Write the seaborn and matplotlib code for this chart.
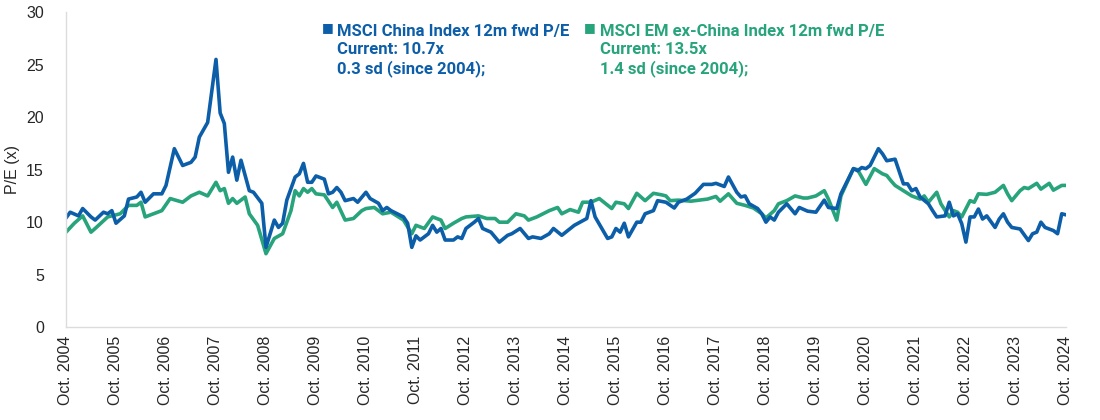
import matplotlib
matplotlib.use("Agg")
from matplotlib import pyplot as plt
import pandas as pd
import seaborn as sns

# month offsets counted from Oct. 2004, P/E values
china_month = [0, 1, 3, 4, 6, 7, 9, 10, 11, 12, 14, 15, 17, 18, 19, 21, 23, 24, 26, 28,
               30, 31, 32, 34, 36, 37, 38, 39, 40, 41, 42, 44, 45, 47, 48, 50, 51, 52, 53, 55,
               56, 57, 58, 59, 60, 62, 63, 64, 65, 66, 67, 69, 70, 72, 73, 75, 76, 77, 78, 81,
               82, 83, 84, 85, 87, 88, 89, 90, 91, 93, 94, 95, 96, 98, 99, 100, 102, 104, 106, 107,
               109, 111, 112, 114, 116, 117, 119, 122, 125, 126, 127, 130, 131, 132, 133, 134, 135, 137, 138, 139,
               141, 142, 144, 146, 147, 149, 151, 153, 155, 156, 158, 159, 161, 162, 163, 164, 166, 167, 168, 169,
               170, 171, 173, 175, 176, 178, 180, 182, 183, 185, 186, 189, 190, 191, 192, 193, 195, 196, 197, 199,
               201, 202, 203, 204, 205, 207, 208, 209, 211, 212, 213, 214, 215, 216, 217, 218, 219, 220, 221, 223,
               224, 225, 226, 227, 229, 231, 232, 233, 234, 235, 237, 238, 239, 240]
china_pe = [10.4, 10.95, 10.6, 11.3, 10.5, 10.2, 10.95, 10.8, 11.1, 9.9, 10.6, 12.2, 12.4, 12.85, 11.9, 12.7, 12.7, 13.5, 17.0, 15.4,
            15.7, 16.2, 18.1, 19.5, 25.5, 20.4, 19.4, 14.75, 16.2, 14.0, 15.9, 13.0, 12.85, 11.8, 7.6, 10.2, 9.5, 9.9, 12.1, 14.3,
            14.6, 15.6, 13.8, 13.8, 14.4, 14.1, 12.7, 12.85, 13.3, 12.85, 12.05, 12.25, 11.9, 12.85, 12.25, 11.8, 11.1, 11.4, 11.1, 10.5,
            9.9, 7.6, 8.7, 8.3, 8.9, 9.7, 9.05, 9.4, 8.3, 8.3, 8.6, 8.45, 9.4, 10.0, 10.35, 9.4, 9.05, 8.1, 8.75, 8.9,
            9.4, 8.45, 8.6, 8.45, 8.9, 9.4, 8.75, 9.7, 10.35, 12.05, 10.5, 8.45, 8.6, 9.4, 9.05, 9.9, 8.6, 10.0, 10.0, 10.8,
            11.1, 12.05, 11.9, 11.35, 11.9, 12.2, 12.75, 13.6, 13.6, 13.7, 13.4, 14.3, 12.85, 12.4, 12.5, 11.75, 11.3, 10.8, 10.0, 10.5,
            10.2, 10.95, 11.75, 10.8, 11.4, 11.05, 10.95, 12.1, 11.4, 11.3, 12.7, 15.1, 14.9, 15.2, 15.1, 15.4, 17.0, 16.5, 15.85, 16.0,
            13.65, 13.65, 13.0, 13.2, 12.4, 11.75, 11.1, 10.5, 10.6, 11.9, 10.6, 10.8, 9.85, 8.1, 10.5, 10.5, 11.25, 10.3, 10.6, 9.5,
            10.3, 10.8, 10.0, 9.5, 9.35, 8.25, 8.9, 9.05, 10.0, 9.5, 9.2, 8.9, 10.8, 10.7]

em_month = [0, 2, 4, 6, 7, 10, 11, 13, 15, 17, 18, 19, 21, 23, 25, 28, 30, 32, 34, 36,
            37, 38, 39, 40, 41, 43, 44, 46, 48, 50, 52, 54, 55, 56, 57, 58, 59, 60, 62, 64,
            65, 67, 69, 71, 72, 74, 76, 78, 81, 83, 84, 86, 88, 90, 91, 93, 95, 96, 99, 101,
            103, 104, 106, 108, 110, 111, 113, 116, 118, 119, 121, 123, 124, 126, 128, 131, 132, 134, 135, 137,
            139, 141, 143, 144, 145, 147, 150, 152, 154, 156, 157, 159, 161, 163, 165, 167, 168, 170, 171, 173,
            175, 177, 178, 180, 182, 183, 185, 186, 189, 190, 192, 194, 196, 197, 198, 199, 201, 202, 203, 205,
            206, 207, 209, 210, 212, 213, 214, 215, 217, 218, 219, 221, 223, 225, 226, 227, 229, 230, 231, 233,
            234, 236, 237, 239, 240]
em_pe = [9.05, 9.9, 10.6, 9.05, 9.4, 10.5, 10.6, 10.8, 11.6, 11.6, 11.9, 10.5, 10.8, 11.1, 12.25, 11.9, 12.5, 12.85, 12.5, 13.8,
         13.0, 13.2, 11.8, 12.25, 11.8, 12.4, 10.8, 9.7, 7.0, 8.45, 8.9, 11.1, 13.0, 12.5, 13.2, 12.85, 13.2, 12.7, 12.6, 11.4,
         11.9, 10.2, 10.35, 11.1, 11.3, 11.4, 10.8, 10.95, 10.2, 8.9, 9.7, 9.4, 10.5, 10.2, 9.4, 9.9, 10.35, 10.5, 10.6, 10.35,
         10.35, 10.0, 10.0, 10.8, 10.6, 10.2, 10.5, 11.1, 11.4, 10.8, 11.2, 10.95, 11.9, 11.9, 12.25, 11.3, 11.9, 11.75, 11.3, 12.75,
         12.05, 12.75, 12.6, 12.5, 12.05, 12.1, 12.0, 12.1, 12.2, 12.45, 12.0, 12.7, 11.8, 11.6, 11.35, 10.8, 10.4, 11.1, 11.75, 12.05,
         12.5, 12.3, 12.3, 12.5, 13.0, 12.2, 10.2, 12.5, 15.1, 15.0, 13.6, 15.1, 14.6, 14.45, 13.95, 13.5, 13.0, 12.75, 12.5, 12.2,
         12.5, 11.9, 12.85, 11.75, 10.5, 11.1, 10.95, 10.5, 12.05, 11.9, 12.7, 12.65, 12.85, 13.5, 12.7, 12.05, 13.0, 13.3, 13.2, 13.7,
         13.15, 13.7, 13.05, 13.5, 13.5]

tick_years = list(range(2004, 2025))
tick_labels = ["Oct. %d" % y for y in tick_years]

china_label = "MSCI China Index 12m fwd P/E\nCurrent: 10.7x\n0.3 sd (since 2004);"
em_label = "MSCI EM ex-China Index 12m fwd P/E\nCurrent: 13.5x\n1.4 sd (since 2004);"

BLUE = "#0c5ea9"
GREEN = "#27a47b"

sns.set_style("white")
plt.rcParams["font.family"] = ["Liberation Sans", "DejaVu Sans"]

china = pd.DataFrame({"month": china_month, "pe": china_pe})
em = pd.DataFrame({"month": em_month, "pe": em_pe})

fig = plt.figure(figsize=(11, 4.2), dpi=100)
ax = fig.add_axes([0.06, 0.221, 0.909, 0.75])

sns.lineplot(data=em, x="month", y="pe", color=GREEN, linewidth=2.6, ax=ax)
sns.lineplot(data=china, x="month", y="pe", color=BLUE, linewidth=2.6, ax=ax)

ax.set_xlim(0, 240)
ax.set_ylim(0, 30)
ax.set_xticks([12 * (y - 2004) for y in tick_years])
ax.set_xticklabels(tick_labels, rotation=90, fontsize=11.5)
ax.set_yticks(range(0, 31, 5))
ax.tick_params(axis="y", direction="in", length=18, width=1, color="#cfcfcf",
               pad=16, labelsize=11.5)
ax.tick_params(axis="x", length=0, pad=6)
ax.set_xlabel("")
ax.set_ylabel("P/E (x)", fontsize=11.5, labelpad=4)

for side in ["top", "right"]:
    ax.spines[side].set_visible(False)
for side in ["left", "bottom"]:
    ax.spines[side].set_color("#dcdcdc")
    ax.spines[side].set_linewidth(1)

# legend drawn as text blocks
for mx, tx, label, col in [(0.2925, 0.306, china_label, BLUE),
                           (0.531, 0.5455, em_label, GREEN)]:
    fig.text(mx, 0.935, "■", color=col, fontsize=9, family=["DejaVu Sans"],
             va="center", ha="left")
    fig.text(tx, 0.943, label, color=col, fontsize=12, fontweight="bold",
             family=["Roboto", "DejaVu Sans"], va="top", ha="left", linespacing=1.26)

fig.savefig("out.png", dpi=100)
